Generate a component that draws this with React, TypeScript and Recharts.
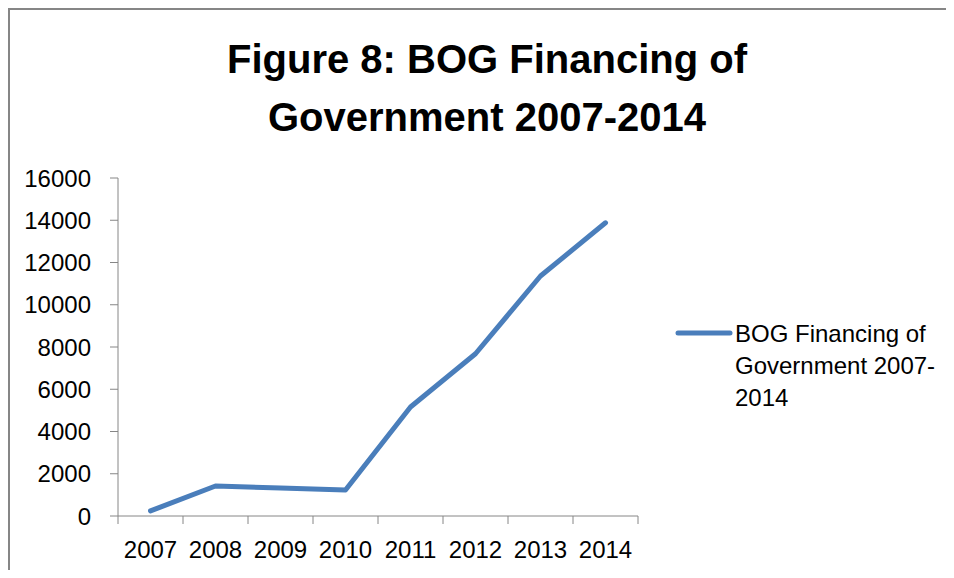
import { CartesianGrid, Legend, Line, LineChart, XAxis, YAxis } from "recharts";

const years = ["2007", "2008", "2009", "2010", "2011", "2012", "2013", "2014"];
const financing = [240, 1420, 1330, 1230, 5160, 7680, 11360, 13880];
const yTicks = [0, 2000, 4000, 6000, 8000, 10000, 12000, 14000, 16000];

const seriesName = "BOG Financing of Government 2007-2014";
const titleLines = ["Figure 8: BOG Financing of", "Government 2007-2014"];

const data = years.map((year, i) => ({ year, value: financing[i] }));

const AXIS = "#868686";
const BLUE = "#4A7EBB";
const FONT = "'Liberation Sans', Arial, sans-serif";

const TICK = 8;
const X_MARGIN = 17;
const BAND = 65;

// Excel puts the tick marks between categories, so draw them from the label tick
function YearTick(props: any) {
  const { x, y, payload, index, visibleTicksCount } = props;
  const axisY = y - TICK - X_MARGIN;
  const half = BAND / 2;
  const isLast = index === visibleTicksCount - 1;
  return (
    <g>
      <line x1={x - half} x2={x - half} y1={axisY} y2={axisY + TICK} stroke={AXIS} />
      {isLast && <line x1={x + half} x2={x + half} y1={axisY} y2={axisY + TICK} stroke={AXIS} />}
      <text x={x} y={y} dy="0.72em" textAnchor="middle" fill="#000" fontSize={24} fontFamily={FONT}>
        {payload.value}
      </text>
    </g>
  );
}

function LegendBox() {
  return (
    <div style={{ position: "relative", width: 270, height: 100, fontFamily: FONT, fontSize: 24, color: "#000" }}>
      <svg width={60} height={12} style={{ position: "absolute", left: 0, top: 0 }}>
        <line x1={3} x2={55} y1={6} y2={6} stroke={BLUE} strokeWidth={5} strokeLinecap="round" />
      </svg>
      <div style={{ position: "absolute", left: 60, top: -9, width: 212, lineHeight: "32px" }}>
        {seriesName}
      </div>
    </div>
  );
}

export default function App() {
  return (
    <div style={{ position: "relative", width: 946, height: 562 }}>
      <div style={{ position: "absolute", left: 0, top: 0, width: 2, height: 562, background: AXIS }} />
      <div style={{ position: "absolute", left: 0, top: 0, width: 946, height: 2, background: AXIS }} />
      <div
        style={{
          position: "absolute",
          left: 0,
          top: 22,
          width: 958,
          textAlign: "center",
          fontFamily: FONT,
          fontWeight: "bold",
          fontSize: 40,
          lineHeight: "58px",
          color: "#000",
        }}
      >
        {titleLines.map((t) => (
          <div key={t}>{t}</div>
        ))}
      </div>
      <div style={{ position: "absolute", left: 2, top: 2 }}>
        <LineChart width={920} height={560} data={data} margin={{ top: 168, right: 292, bottom: 4, left: 8 }}>
          <CartesianGrid stroke="none" />
          <XAxis
            dataKey="year"
            height={50}
            padding={{ left: BAND / 2, right: BAND / 2 }}
            tickLine={false}
            tickSize={TICK}
            tickMargin={X_MARGIN}
            axisLine={{ stroke: AXIS }}
            tick={<YearTick />}
            interval={0}
          />
          <YAxis
            width={100}
            domain={[0, 16000]}
            ticks={yTicks}
            interval={0}
            tickSize={TICK}
            tickMargin={19}
            axisLine={{ stroke: AXIS }}
            tickLine={{ stroke: AXIS }}
            tick={{ fill: "#000", fontSize: 24, fontFamily: FONT }}
          />
          <Legend
            layout="horizontal"
            align="center"
            verticalAlign="middle"
            wrapperStyle={{ left: 665, top: 317, width: 250, height: 100 }}
            content={() => <LegendBox />}
          />
          <Line
            type="linear"
            dataKey="value"
            name={seriesName}
            stroke={BLUE}
            strokeWidth={5}
            strokeLinecap="round"
            strokeLinejoin="round"
            dot={false}
            activeDot={false}
            isAnimationActive={false}
          />
        </LineChart>
      </div>
    </div>
  );
}
